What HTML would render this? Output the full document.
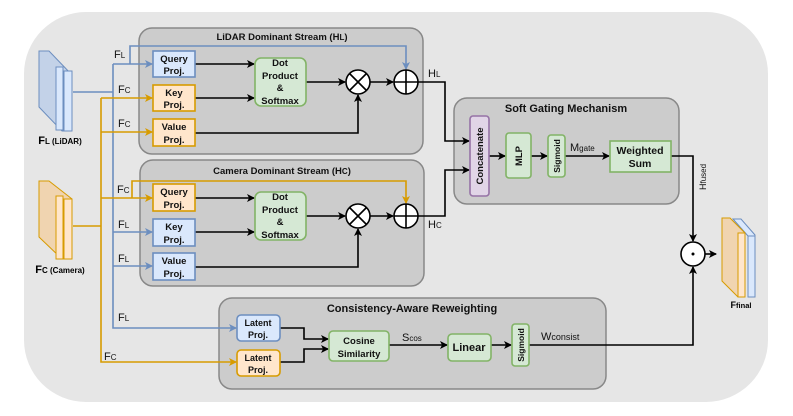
<!DOCTYPE html>
<html><head><meta charset="utf-8"><style>
html,body{margin:0;padding:0;background:#fff;}
svg{display:block;font-family:"Liberation Sans",Arial,sans-serif;}
.t{font-size:9.5px;font-weight:bold;fill:#111;text-anchor:middle;}
.l{font-size:11px;fill:#111;}
</style></head><body>
<svg width="793" height="416" viewBox="0 0 793 416" xmlns="http://www.w3.org/2000/svg">
<defs>
<marker id="ak" markerWidth="8" markerHeight="8" refX="7" refY="4" orient="auto" markerUnits="userSpaceOnUse"><path d="M0,0 L8,4 L0,8 L2,4z" fill="#000"/></marker>
<marker id="ab" markerWidth="8" markerHeight="8" refX="7" refY="4" orient="auto" markerUnits="userSpaceOnUse"><path d="M0,0 L8,4 L0,8 L2,4z" fill="#6c8ebf"/></marker>
<marker id="ao" markerWidth="8" markerHeight="8" refX="7" refY="4" orient="auto" markerUnits="userSpaceOnUse"><path d="M0,0 L8,4 L0,8 L2,4z" fill="#d79b00"/></marker>
</defs>
<rect x="24" y="12" width="744" height="390" rx="62" fill="#e6e6e6"/>
<!-- group boxes -->
<rect x="139" y="28" width="284" height="126" rx="13" fill="#cccccc" stroke="#888" stroke-width="1.5"/>
<rect x="140" y="160" width="284" height="126" rx="13" fill="#cccccc" stroke="#888" stroke-width="1.5"/>
<rect x="454" y="98" width="225" height="106" rx="13" fill="#cccccc" stroke="#888" stroke-width="1.5"/>
<rect x="219" y="298" width="387" height="91" rx="13" fill="#cccccc" stroke="#888" stroke-width="1.5"/>
<text class="t" x="282" y="40">LiDAR Dominant Stream (H<tspan font-size="8">L</tspan>)</text>
<text class="t" x="282" y="174">Camera Dominant Stream (H<tspan font-size="8">C</tspan>)</text>
<text class="t" x="566" y="112" style="font-size:11px">Soft Gating Mechanism</text>
<text class="t" x="412" y="312" style="font-size:11px">Consistency-Aware Reweighting</text>
<!-- input icons -->
<g fill="#dae8fc" stroke="#6c8ebf" stroke-width="1"><path d="M39,51 L49,51 L72,75 L72,131 L62,131 L39,107z" fill="#c3d2e8"/><rect x="56" y="67" width="7" height="63"/><rect x="64" y="71" width="8" height="60"/></g>
<text x="60" y="144" style="font-size:11px;font-weight:bold" text-anchor="middle">F<tspan font-size="8">L</tspan><tspan font-size="8"> (LiDAR)</tspan></text>
<g fill="#ffe6cc" stroke="#d79b00" stroke-width="1"><path d="M39,181 L49,181 L72,199 L72,259 L62,259 L39,237z" fill="#f0d4b0"/><rect x="56" y="196" width="7" height="63"/><rect x="64" y="199" width="8" height="60"/></g>
<text x="60" y="273" style="font-size:11px;font-weight:bold" text-anchor="middle">F<tspan font-size="8">C (Camera)</tspan></text>
<!-- Ffinal icon -->
<g stroke-width="1">
<path d="M733,219 L741,219 L755,235 L755,297 L748,297 L748,236z" fill="#dae8fc" stroke="#6c8ebf"/>
<rect x="748" y="236" width="7" height="61" fill="#dae8fc" stroke="#6c8ebf"/>
<path d="M722,218 L730,218 L745,233 L745,297 L738,297 L722,281z" fill="#f0d4b0" stroke="#d79b00"/>
<rect x="738" y="233" width="7" height="64" fill="#ffe6cc" stroke="#d79b00"/>
</g>
<text x="741" y="308" style="font-size:9px;font-weight:bold" text-anchor="middle">F<tspan font-size="7.5">final</tspan></text>
<!-- trunks -->
<g fill="none" stroke="#6c8ebf" stroke-width="1.6">
<path d="M73,92 H113"/><path d="M113,64 V328 H236" marker-end="url(#ab)"/>
<path d="M113,64 H152" marker-end="url(#ab)"/>
<path d="M130,64 V46 H406 V69" marker-end="url(#ab)"/>
<path d="M113,232 H152" marker-end="url(#ab)"/><path d="M113,266 H152" marker-end="url(#ab)"/>
</g>
<g fill="none" stroke="#d79b00" stroke-width="1.6">
<path d="M73,226 H101"/><path d="M101,98 V362 H236" marker-end="url(#ao)"/>
<path d="M101,98 H152" marker-end="url(#ao)"/><path d="M101,132 H152" marker-end="url(#ao)"/>
<path d="M101,198 H152" marker-end="url(#ao)"/>
<path d="M132,198 V181 H406 V203" marker-end="url(#ao)"/>
</g>
<g class="l" style="font-size:11px">
<text x="114" y="58">F<tspan font-size="8">L</tspan></text>
<text x="118" y="93">F<tspan font-size="8">C</tspan></text>
<text x="118" y="127">F<tspan font-size="8">C</tspan></text>
<text x="117" y="193">F<tspan font-size="8">C</tspan></text>
<text x="118" y="228">F<tspan font-size="8">L</tspan></text>
<text x="118" y="262">F<tspan font-size="8">L</tspan></text>
<text x="118" y="321">F<tspan font-size="8">L</tspan></text>
<text x="104" y="360">F<tspan font-size="8">C</tspan></text>
<text x="428" y="77">H<tspan font-size="8">L</tspan></text>
<text x="428" y="228">H<tspan font-size="8">C</tspan></text>
<text x="570" y="151">M<tspan font-size="8">gate</tspan></text>
<text x="402" y="341">S<tspan font-size="8">cos</tspan></text>
<text x="541" y="340">W<tspan font-size="9">consist</tspan></text>
<text transform="translate(706,190) rotate(-90)" font-size="9">H<tspan font-size="8">fused</tspan></text>
</g>
<!-- black connectors -->
<g fill="none" stroke="#000" stroke-width="1.6">
<path d="M195,64 H254" marker-end="url(#ak)"/><path d="M195,98 H254" marker-end="url(#ak)"/>
<path d="M306,82 H345" marker-end="url(#ak)"/><path d="M370,82 H393" marker-end="url(#ak)"/>
<path d="M195,133 H358 V95" marker-end="url(#ak)"/>
<path d="M195,198 H254" marker-end="url(#ak)"/><path d="M195,232 H254" marker-end="url(#ak)"/>
<path d="M306,216 H345" marker-end="url(#ak)"/><path d="M370,216 H393" marker-end="url(#ak)"/>
<path d="M195,267 H358 V229" marker-end="url(#ak)"/>
<path d="M418,82 H445 V141 H469" marker-end="url(#ak)"/>
<path d="M418,216 H445 V170 H469" marker-end="url(#ak)"/>
<path d="M489,156 H505" marker-end="url(#ak)"/><path d="M531,156 H547" marker-end="url(#ak)"/>
<path d="M565,156 H609" marker-end="url(#ak)"/>
<path d="M671,156 H693 V241" marker-end="url(#ak)"/>
<path d="M705,254 H716" marker-end="url(#ak)"/>
<path d="M280,328 H304 V339 H328" marker-end="url(#ak)"/>
<path d="M280,362 H304 V349 H328" marker-end="url(#ak)"/>
<path d="M389,345 H447" marker-end="url(#ak)"/><path d="M491,345 H511" marker-end="url(#ak)"/>
<path d="M529,345 H693 V267" marker-end="url(#ak)"/>
</g>
<!-- operators -->
<g fill="#fff" stroke="#000" stroke-width="1.6">
<circle cx="358" cy="82" r="12"/><path d="M350,74 L366,90 M366,74 L350,90"/>
<circle cx="406" cy="82" r="12"/><path d="M394,82 H418 M406,70 V94"/>
<circle cx="358" cy="216" r="12"/><path d="M350,208 L366,224 M366,208 L350,224"/>
<circle cx="406" cy="216" r="12"/><path d="M394,216 H418 M406,204 V228"/>
<circle cx="693" cy="254" r="12"/>
</g>
<circle cx="693" cy="254" r="1.5" fill="#000"/>
<!-- nodes -->
<g stroke-width="1.6">
<rect x="153" y="51" width="42" height="26" fill="#dae8fc" stroke="#6c8ebf"/>
<rect x="153" y="85" width="42" height="26" fill="#ffe6cc" stroke="#d79b00"/>
<rect x="153" y="119" width="42" height="27" fill="#ffe6cc" stroke="#d79b00"/>
<rect x="153" y="184" width="42" height="27" fill="#ffe6cc" stroke="#d79b00"/>
<rect x="153" y="219" width="42" height="27" fill="#dae8fc" stroke="#6c8ebf"/>
<rect x="153" y="253" width="42" height="27" fill="#dae8fc" stroke="#6c8ebf"/>
<rect x="255" y="58" width="51" height="48" rx="6" fill="#d5e8d4" stroke="#82b366"/>
<rect x="255" y="192" width="51" height="48" rx="6" fill="#d5e8d4" stroke="#82b366"/>
<rect x="470" y="116" width="19" height="80" rx="3" fill="#e1d5e7" stroke="#9673a6"/>
<rect x="506" y="133" width="25" height="45" rx="3" fill="#d5e8d4" stroke="#82b366"/>
<rect x="548" y="135" width="17" height="42" rx="3" fill="#d5e8d4" stroke="#82b366"/>
<rect x="610" y="141" width="61" height="31" fill="#d5e8d4" stroke="#82b366"/>
<rect x="237" y="315" width="43" height="26" rx="4" fill="#dae8fc" stroke="#6c8ebf"/>
<rect x="237" y="350" width="43" height="26" rx="4" fill="#ffe6cc" stroke="#d79b00"/>
<rect x="329" y="331" width="60" height="30" rx="4" fill="#d5e8d4" stroke="#82b366"/>
<rect x="448" y="334" width="43" height="27" rx="4" fill="#d5e8d4" stroke="#82b366"/>
<rect x="512" y="324" width="17" height="42" rx="3" fill="#d5e8d4" stroke="#82b366"/>
</g>
<g class="t">
<text x="174" y="62">Query</text><text x="174" y="74">Proj.</text>
<text x="174" y="96">Key</text><text x="174" y="108">Proj.</text>
<text x="174" y="130">Value</text><text x="174" y="143">Proj.</text>
<text x="174" y="195">Query</text><text x="174" y="208">Proj.</text>
<text x="174" y="230">Key</text><text x="174" y="243">Proj.</text>
<text x="174" y="264">Value</text><text x="174" y="277">Proj.</text>
<text x="280" y="66">Dot</text><text x="280" y="79">Product</text><text x="280" y="91">&amp;</text><text x="280" y="104">Softmax</text>
<text x="280" y="200">Dot</text><text x="280" y="213">Product</text><text x="280" y="225">&amp;</text><text x="280" y="238">Softmax</text>
<text transform="translate(483,156) rotate(-90)">Concatenate</text>
<text transform="translate(522,156) rotate(-90)">MLP</text>
<text transform="translate(560,156) rotate(-90)" style="font-size:8.5px">Sigmoid</text>
<text x="640" y="154" style="font-size:10.5px">Weighted</text><text x="640" y="167" style="font-size:10.5px">Sum</text>
<text x="258" y="326" style="font-size:9px">Latent</text><text x="258" y="338" style="font-size:9px">Proj.</text>
<text x="258" y="361" style="font-size:9px">Latent</text><text x="258" y="373" style="font-size:9px">Proj.</text>
<text x="359" y="344">Cosine</text><text x="359" y="357">Similarity</text>
<text x="469" y="351" style="font-size:11px">Linear</text>
<text transform="translate(524,345) rotate(-90)" style="font-size:8.5px">Sigmoid</text>
</g>
</svg>
</body></html>
